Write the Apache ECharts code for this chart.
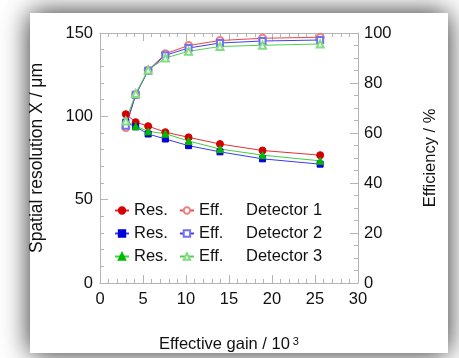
<!DOCTYPE html>
<html>
<head>
<meta charset="utf-8">
<script src="https://cdn.jsdelivr.net/npm/echarts@6/dist/echarts.min.js"></script>
<style>html,body{margin:0;padding:0;background:#fff}#c{width:459px;height:358px}</style>
</head>
<body>
<div id="c"></div>
<script>
var gain = [3.0, 4.15, 5.6, 7.6, 10.3, 13.95, 18.9, 25.6];
var res1 = [101.3, 96.5, 94.1, 90.5, 87.4, 83.4, 79.5, 76.7];
var res2 = [96.5, 93.7, 89.4, 86.4, 82.4, 78.7, 74.5, 71.3];
var res3 = [97.3, 94.1, 91.0, 89.6, 85.2, 80.4, 76.7, 73.3];
var eff1 = [62.2, 75.4, 85.1, 91.7, 95.0, 97.0, 97.9, 98.3];
var eff2 = [62.9, 75.3, 84.9, 91.1, 94.0, 96.0, 96.8, 97.2];
var eff3 = [64.8, 75.8, 85.2, 90.0, 92.7, 94.6, 95.1, 95.6];
var detectors = ['Detector 1', 'Detector 2', 'Detector 3'];

function pairs(xs, ys) { return xs.map(function (x, i) { return [x, ys[i]]; }); }

var FONT = 'Liberation Sans';
var axisGray = '#b4b4b4';

function mkSeries(name, data, yIdx, symbol, size, color, lineColor) {
  return {
    name: name, type: 'line', xAxisIndex: 0, yAxisIndex: yIdx,
    data: pairs(gain, data), symbol: symbol, symbolSize: size,
    showAllSymbol: true,
    itemStyle: { color: color, borderColor: color, borderWidth: 1 },
    lineStyle: { color: lineColor, width: 1 },
    emphasis: { disabled: true }, animation: false
  };
}

var series = [
  mkSeries('Res.1', res1, 0, 'circle', 7, '#d40000', '#e23030'),
  mkSeries('Eff.1', eff1, 1, 'emptyCircle', 7, '#ee8080', '#ea4848'),
  mkSeries('Res.2', res2, 0, 'rect', 6, '#0000d8', '#3a3aee'),
  mkSeries('Eff.2', eff2, 1, 'emptyRect', 6, '#7070f0', '#4040f0'),
  mkSeries('Res.3', res3, 0, 'triangle', 7, '#00bb00', '#40d040'),
  mkSeries('Eff.3', eff3, 1, 'emptyTriangle', 7, '#80dd80', '#50d050')
];

var rowY = [211, 234, 257];
function mkLegend(i) {
  return {
    left: 114, top: rowY[i] - 9, padding: 0, itemGap: 11,
    itemWidth: 14, itemHeight: 8,
    selectedMode: false,
    formatter: function (n) { return n.replace(/\d$/, ''); },
    textStyle: { fontFamily: FONT, fontSize: 16.5, color: '#111' },
    data: ['Res.' + (i + 1), 'Eff.' + (i + 1)]
  };
}
var legends = [0, 1, 2].map(mkLegend);

function axisStyle(split) {
  return {
    axisLine: { show: true, onZero: false, lineStyle: { color: axisGray } },
    axisTick: { show: true, inside: true, length: 8, lineStyle: { color: axisGray } },
    minorTick: { show: true, splitNumber: split, length: 4, lineStyle: { color: axisGray } },
    splitLine: { show: false }
  };
}
var labelStyle = { fontFamily: FONT, fontSize: 16.5, color: '#111' };

var option = {
  backgroundColor: '#ffffff',
  animation: false,
  grid: { left: 100, right: 101, top: 33, bottom: 72 },
  graphic: [
    { type: 'rect', z: -100, silent: true,
      shape: { x: 30, y: 13, width: 418, height: 340 },
      style: { fill: '#fff', shadowBlur: 26, shadowColor: 'rgba(0,0,0,0.85)' } }
  ].concat(detectors.map(function (d, i) {
    return { type: 'text', left: 246, top: rowY[i] - 9, silent: true,
      style: { text: d, font: '16.5px "Liberation Sans"', fill: '#111' } };
  })),
  xAxis: [
    Object.assign({ type: 'value', min: 0, max: 30, interval: 5, position: 'bottom',
      axisLabel: Object.assign({ margin: 8 }, labelStyle),
      name: 'Effective gain / 10{sup|3}', nameLocation: 'middle', nameGap: 53,
      nameTextStyle: Object.assign({
        rich: { sup: { fontFamily: FONT, fontSize: 11, color: '#111', verticalAlign: 'top', padding: [0, 0, 0, 3] } } }, labelStyle)
    }, axisStyle(5)),
    Object.assign({ type: 'value', min: 0, max: 30, interval: 5, position: 'top',
      axisLabel: { show: false } }, axisStyle(5))
  ],
  yAxis: [
    Object.assign({ type: 'value', min: 0, max: 150, interval: 50, position: 'left',
      axisLabel: Object.assign({ margin: 7 }, labelStyle),
      name: 'Spatial resolution X / \u03bcm', nameLocation: 'middle', nameGap: 54, nameRotate: 90,
      nameTextStyle: { fontFamily: FONT, fontSize: 17.5, color: '#111' } }, axisStyle(5)),
    Object.assign({ type: 'value', min: 0, max: 100, interval: 20, position: 'right',
      axisLabel: Object.assign({ margin: 6 }, labelStyle),
      name: 'Efficiency / %', nameLocation: 'middle', nameGap: 64, nameRotate: 90,
      nameTextStyle: labelStyle }, axisStyle(4))
  ],
  legend: legends,
  series: series
};

var chart = echarts.init(document.getElementById('c'), null, { renderer: 'canvas' });
chart.setOption(option);
</script>
</body>
</html>
